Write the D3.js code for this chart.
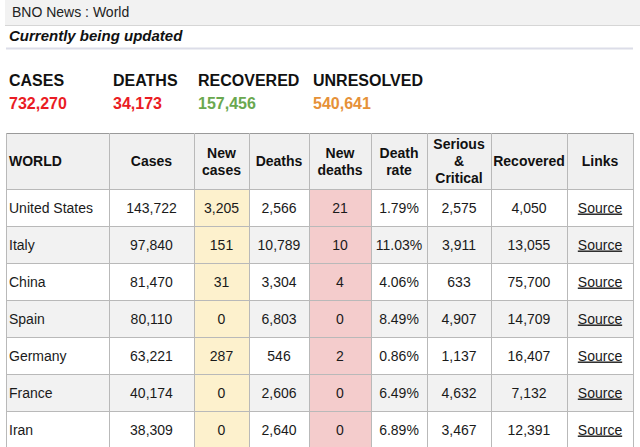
<!DOCTYPE html>
<html>
<head>
<meta charset="utf-8">
<script src="https://cdn.jsdelivr.net/npm/d3@7"></script>
<style>
  html, body { margin: 0; padding: 0; background: #fff; }
  svg { display: block; font-family: "Liberation Sans", Arial, sans-serif; }
</style>
</head>
<body>
<svg id="chart" width="640" height="447"></svg>
<script>
// ---------- data ----------
const pageTitle = "BNO News : World";
const subtitle = "Currently being updated";
const summaryLabels = ["CASES", "DEATHS", "RECOVERED", "UNRESOLVED"];
const summaryValues = [732270, 34173, 157456, 540641];
const headers = [["WORLD"], ["Cases"], ["New", "cases"], ["Deaths"], ["New", "deaths"], ["Death", "rate"], ["Serious", "&", "Critical"], ["Recovered"], ["Links"]];
const countries = ["United States", "Italy", "China", "Spain", "Germany", "France", "Iran"];
const cases = [143722, 97840, 81470, 80110, 63221, 40174, 38309];
const newCases = [3205, 151, 31, 0, 287, 0, 0];
const deaths = [2566, 10789, 3304, 6803, 546, 2606, 2640];
const newDeaths = [21, 10, 4, 0, 2, 0, 0];
const deathRate = [1.79, 11.03, 4.06, 8.49, 0.86, 6.49, 6.89];
const serious = [2575, 3911, 633, 4907, 1137, 4632, 3467];
const recovered = [4050, 13055, 75700, 14709, 16407, 7132, 12391];
const linkLabel = "Source";

// ---------- layout / style ----------
const colEdges = [6, 109, 194, 249, 309, 371, 427, 491, 567, 633];
const summaryX = [9, 113, 198, 313];
const summaryColors = ["#ea1c24", "#ea1c24", "#6aa84f", "#e69138"];
const gridColor = "#b9b9b9";
const fmt = d3.format(",");

const svg = d3.select("#chart");

// top bar
svg.append("rect").attr("x", 5).attr("y", 0).attr("width", 635).attr("height", 25).attr("fill", "#f2f2f2");
svg.append("line").attr("x1", 5).attr("x2", 640).attr("y1", 25.5).attr("y2", 25.5).attr("stroke", "#d6d6d6");
svg.append("text").attr("x", 12).attr("y", 17).attr("font-size", 14).attr("fill", "#222").text(pageTitle);

svg.append("text").attr("x", 9).attr("y", 41).attr("font-size", 15).attr("font-weight", "bold")
  .attr("font-style", "italic").attr("fill", "#111").text(subtitle);
svg.append("rect").attr("x", 6).attr("y", 47.5).attr("width", 627).attr("height", 2).attr("fill", "#dcdde8");

// summary
const sum = svg.append("g");
summaryLabels.forEach((lab, i) => {
  sum.append("text").attr("x", summaryX[i]).attr("y", 86).attr("font-size", 16).attr("font-weight", "bold")
    .attr("fill", "#111").text(lab);
  sum.append("text").attr("x", summaryX[i]).attr("y", 109).attr("font-size", 16).attr("font-weight", "bold")
    .attr("fill", summaryColors[i]).text(fmt(summaryValues[i]));
});

// table
const rows = countries.map((c, i) => [
  c, fmt(cases[i]), fmt(newCases[i]), fmt(deaths[i]), fmt(newDeaths[i]),
  deathRate[i].toFixed(2) + "%", fmt(serious[i]), fmt(recovered[i]), linkLabel
]);

const headerTop = 133, headerBottom = 189, tableBottom = 448;
const y = d3.scaleBand().domain(countries).range([headerBottom, tableBottom]).padding(0);
const colX = i => colEdges[i];
const colW = i => colEdges[i + 1] - colEdges[i];
const colC = i => (colEdges[i] + colEdges[i + 1]) / 2;

const tbl = svg.append("g");
// header background
tbl.append("rect").attr("x", colEdges[0]).attr("y", headerTop).attr("width", colEdges[9] - colEdges[0])
  .attr("height", headerBottom - headerTop).attr("fill", "#f0f0f0");
// row backgrounds
tbl.selectAll("rect.row").data(countries).join("rect").attr("class", "row")
  .attr("x", colEdges[0]).attr("y", d => y(d)).attr("width", colEdges[9] - colEdges[0])
  .attr("height", y.bandwidth()).attr("fill", (d, i) => i % 2 ? "#f2f2f2" : "#ffffff");
// highlighted columns
tbl.selectAll("rect.nc").data(countries).join("rect").attr("class", "nc")
  .attr("x", colX(2)).attr("y", d => y(d)).attr("width", colW(2)).attr("height", y.bandwidth()).attr("fill", "#fdf1cd");
tbl.selectAll("rect.nd").data(countries).join("rect").attr("class", "nd")
  .attr("x", colX(4)).attr("y", d => y(d)).attr("width", colW(4)).attr("height", y.bandwidth()).attr("fill", "#f4cccc");

// grid lines
const hLines = [headerTop, headerBottom].concat(countries.slice(1).map(c => y(c)));
tbl.selectAll("line.h").data(hLines).join("line").attr("class", "h")
  .attr("x1", colEdges[0]).attr("x2", colEdges[9]).attr("y1", d => d + 0.5).attr("y2", d => d + 0.5)
  .attr("stroke", (d, i) => i === 0 ? "#9a9a9a" : gridColor);
tbl.selectAll("line.v").data(colEdges).join("line").attr("class", "v")
  .attr("x1", d => d + 0.5).attr("x2", d => d + 0.5).attr("y1", headerTop).attr("y2", tableBottom)
  .attr("stroke", gridColor);

// header text
const headerMid = 166, lh = 17;
headers.forEach((lines, ci) => {
  const t = tbl.append("text").attr("font-size", 14).attr("font-weight", "bold").attr("fill", "#111")
    .attr("text-anchor", ci === 0 ? "start" : "middle");
  lines.forEach((ln, li) => {
    t.append("tspan").attr("x", ci === 0 ? 9 : colC(ci))
      .attr("y", headerMid + (li - (lines.length - 1) / 2) * lh).text(ln);
  });
});

// body text
rows.forEach((r, ri) => {
  const cy = y(countries[ri]) + y.bandwidth() / 2 + 5;
  r.forEach((v, ci) => {
    tbl.append("text").attr("x", ci === 0 ? 9 : colC(ci)).attr("y", cy)
      .attr("text-anchor", ci === 0 ? "start" : "middle").attr("font-size", 14)
      .attr("fill", "#1a1a1a").attr("text-decoration", ci === 8 ? "underline" : null).text(v);
  });
});
</script>
</body>
</html>
